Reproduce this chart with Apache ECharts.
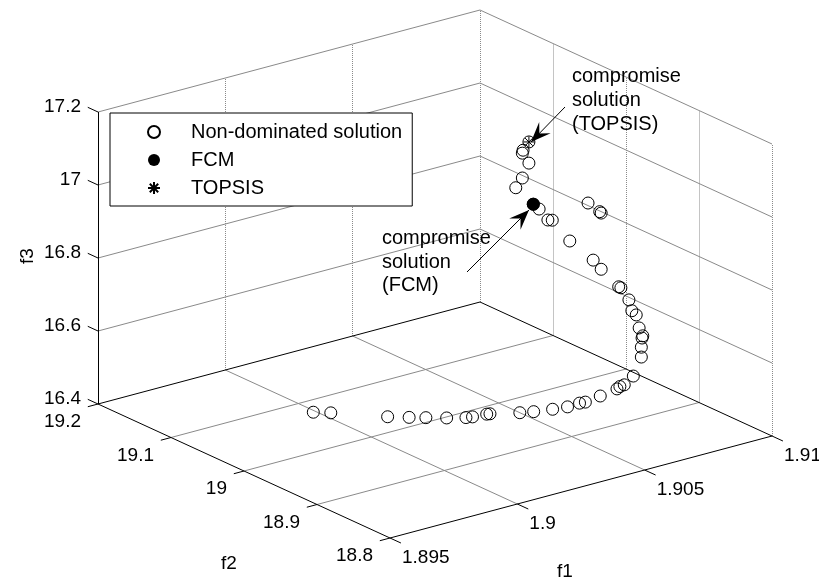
<!DOCTYPE html>
<html>
<head>
<meta charset="utf-8">
<script src="https://cdn.jsdelivr.net/npm/echarts@6/dist/echarts.min.js"></script>
<style>
html, body { margin: 0; padding: 0; background: #fff; }
#chart { width: 819px; height: 583px; }
</style>
</head>
<body>
<div id="chart"></div>
<script>
// axis ranges and ticks
const f1Range = [1.895, 1.91]
const f2Range = [18.8, 19.2]
const f3Range = [16.4, 17.2]
const f1Ticks = [1.895, 1.9, 1.905, 1.91]
const f2Ticks = [18.8, 18.9, 19, 19.1, 19.2]
const f3Ticks = [16.4, 16.6, 16.8, 17, 17.2]
const f1TickLabels = ['1.895', '1.9', '1.905', '1.91']
const f2TickLabels = ['18.8', '18.9', '19', '19.1', '19.2']
const f3TickLabels = ['16.4', '16.6', '16.8', '17', '17.2']

// non-dominated solutions (f1, f2, f3)
const ndF1 = [1.8999, 1.9003, 1.9015, 1.9020, 1.9024, 1.9029, 1.9034, 1.9036, 1.9041, 1.9042,
  1.9050, 1.9054, 1.9060, 1.9065, 1.9070, 1.9072, 1.9079, 1.9087, 1.9089, 1.9091, 1.9098,
  1.91, 1.91, 1.91, 1.91, 1.91, 1.91, 1.91, 1.91, 1.91, 1.91, 1.91, 1.91, 1.91,
  1.91, 1.91, 1.91, 1.91, 1.91, 1.91, 1.91, 1.91, 1.91, 1.91, 1.91, 1.91, 1.91]
const ndF2 = [19.076, 19.066, 19.030, 19.018, 19.009, 18.998, 18.989, 18.987, 18.985, 18.984,
  18.971, 18.966, 18.961, 18.958, 18.959, 18.958, 18.962, 18.967, 18.970, 18.971, 18.983,
  18.979, 18.979, 18.978, 18.977, 18.982, 18.986, 18.992, 18.996, 19.007, 19.010, 19.034, 19.045, 19.077,
  19.034, 19.036, 19.052, 19.101, 19.107, 19.119, 19.127, 19.151, 19.142, 19.133, 19.142, 19.141, 19.133]
const ndF3 = [16.40, 16.40, 16.40, 16.40, 16.40, 16.40, 16.40, 16.40, 16.40, 16.40,
  16.40, 16.40, 16.40, 16.40, 16.40, 16.40, 16.40, 16.40, 16.40, 16.40, 16.40,
  16.452, 16.479, 16.505, 16.512, 16.529, 16.561, 16.567, 16.593, 16.616, 16.616, 16.642, 16.657, 16.680,
  16.796, 16.798, 16.807, 16.715, 16.710, 16.729, 16.735, 16.758, 16.793, 16.842, 16.861, 16.870, 16.900]

// compromise solutions
const fcmPoint = [1.91, 19.127, 16.735]
const topsisPoint = [1.91, 19.133, 16.9]

// oblique view of the box: origin corner (f1 min, f2 max, f3 min) and the three edge vectors
const view = { ox: 98, oy: 404, e1: [382, -102], e2: [292, 134], e3: [0, -292] }

function proj(a, b, c) {
  const t1 = (a - f1Range[0]) / (f1Range[1] - f1Range[0])
  const t2 = (f2Range[1] - b) / (f2Range[1] - f2Range[0])
  const t3 = (c - f3Range[0]) / (f3Range[1] - f3Range[0])
  return [
    view.ox + t1 * view.e1[0] + t2 * view.e2[0] + t3 * view.e3[0],
    view.oy + t1 * view.e1[1] + t2 * view.e2[1] + t3 * view.e3[1]
  ]
}
function seg(p, q) {
  return { coords: [proj(p[0], p[1], p[2]), proj(q[0], q[1], q[2])] }
}

const [a0, a1] = f1Range
const [b0, b1] = f2Range
const [c0, c1] = f3Range

// grid lines
const gridSlant = []
const gridVertical = []
f1Ticks.slice(1, -1).forEach(v => gridSlant.push(seg([v, b0, c0], [v, b1, c0])))
f2Ticks.slice(1, -1).forEach(v => gridSlant.push(seg([a0, v, c0], [a1, v, c0])))
f3Ticks.slice(1).forEach(v => {
  gridSlant.push(seg([a0, b1, v], [a1, b1, v]))
  gridSlant.push(seg([a1, b0, v], [a1, b1, v]))
})
f1Ticks.slice(1).forEach(v => gridVertical.push(seg([v, b1, c0], [v, b1, c1])))
f2Ticks.slice(0, -1).forEach(v => gridVertical.push(seg([a1, v, c0], [a1, v, c1])))

// axis lines, floor edges and ticks
const axisLines = [
  seg([a0, b0, c0], [a0, b1, c0]),
  seg([a0, b0, c0], [a1, b0, c0]),
  seg([a0, b1, c0], [a0, b1, c1]),
  seg([a0, b1, c0], [a1, b1, c0]),
  seg([a1, b1, c0], [a1, b0, c0])
]
f1Ticks.forEach(v => axisLines.push(seg([v, b0, c0], [v, b0 - 0.015, c0])))
f2Ticks.forEach(v => axisLines.push(seg([a0, v, c0], [a0 - 0.0004, v, c0])))
f3Ticks.forEach(v => axisLines.push(seg([a0, b1, v], [a0, b1 + 0.014, v])))

// tick labels
const tickLabelItems = []
f1Ticks.forEach((v, i) => tickLabelItems.push({ pos: proj(v, b0, c0), text: f1TickLabels[i], align: 'left', dx: 12, dy: 20 }))
f2Ticks.forEach((v, i) => tickLabelItems.push({ pos: proj(a0, v, c0), text: f2TickLabels[i], align: 'right', dx: -17, dy: 18 }))
f3Ticks.forEach((v, i) => tickLabelItems.push({ pos: proj(a0, b1, v), text: f3TickLabels[i], align: 'right', dx: -17, dy: -5 }))

const FONT = '"Liberation Sans", Arial, Helvetica, sans-serif'

function arrowHead(tail, tip, len, half) {
  const dx = tip[0] - tail[0]
  const dy = tip[1] - tail[1]
  const l = Math.hypot(dx, dy)
  const ux = dx / l
  const uy = dy / l
  const bx = tip[0] - ux * len
  const by = tip[1] - uy * len
  return [tip, [bx - uy * half, by + ux * half], [tip[0] - ux * len * 0.6, tip[1] - uy * len * 0.6], [bx + uy * half, by - ux * half]]
}
function arrow(tail, tip) {
  return [
    { type: 'line', shape: { x1: tail[0], y1: tail[1], x2: tip[0], y2: tip[1] }, style: { stroke: '#000', lineWidth: 1 }, z: 20 },
    { type: 'polygon', shape: { points: arrowHead(tail, tip, 20, 8) }, style: { fill: '#000' }, z: 20 }
  ]
}

const myChart = echarts.init(document.getElementById('chart'))
myChart.setOption({
  animation: false,
  backgroundColor: '#fff',
  grid: { left: 0, top: 0, right: 0, bottom: 0 },
  xAxis: { type: 'value', min: 0, max: 819, show: false },
  yAxis: { type: 'value', min: 0, max: 583, inverse: true, show: false },
  legend: {
    left: 110,
    top: 113,
    orient: 'vertical',
    selectedMode: false,
    backgroundColor: '#fff',
    borderColor: '#000',
    borderWidth: 1,
    padding: [9, 10, 8, 37],
    itemWidth: 12,
    itemHeight: 12,
    itemGap: 8,
    textStyle: { fontFamily: FONT, fontSize: 20, color: '#000', lineHeight: 20, padding: [0, 0, 0, 26] },
    data: ['Non-dominated solution', 'FCM', 'TOPSIS']
  },
  series: [
    {
      type: 'lines',
      coordinateSystem: 'cartesian2d',
      silent: true,
      z: 1,
      lineStyle: { color: '#8a8a8a', width: 1, opacity: 1 },
      data: gridSlant
    },
    {
      type: 'lines',
      coordinateSystem: 'cartesian2d',
      silent: true,
      z: 1,
      lineStyle: { color: '#8a8a8a', width: 1, type: [1, 1], opacity: 1 },
      data: gridVertical
    },
    {
      type: 'lines',
      coordinateSystem: 'cartesian2d',
      silent: true,
      z: 2,
      lineStyle: { color: '#000', width: 1, opacity: 1 },
      data: axisLines
    },
    {
      type: 'custom',
      coordinateSystem: 'cartesian2d',
      silent: true,
      z: 5,
      data: tickLabelItems.map(d => d.pos),
      renderItem: (params, api) => {
        const d = tickLabelItems[params.dataIndex]
        const p = api.coord([api.value(0), api.value(1)])
        return {
          type: 'text',
          x: p[0] + d.dx,
          y: p[1] + d.dy,
          style: { text: d.text, font: '19px ' + FONT, fill: '#000', align: d.align, verticalAlign: 'middle' }
        }
      }
    },
    {
      name: 'Non-dominated solution',
      type: 'scatter',
      z: 3,
      symbol: 'circle',
      symbolSize: 12,
      itemStyle: { color: 'rgba(255,255,255,0)', borderColor: '#000', borderWidth: 1, opacity: 1 },
      data: ndF1.map((v, i) => proj(v, ndF2[i], ndF3[i]))
    },
    {
      name: 'FCM',
      type: 'scatter',
      z: 4,
      symbol: 'circle',
      symbolSize: 13,
      itemStyle: { color: '#000', opacity: 1 },
      data: [proj(fcmPoint[0], fcmPoint[1], fcmPoint[2])]
    },
    {
      name: 'TOPSIS',
      type: 'scatter',
      z: 4,
      symbol: 'path://M5,0L5,10M0,5L10,5M1.5,1.5L8.5,8.5M1.5,8.5L8.5,1.5',
      symbolSize: 11,
      itemStyle: { color: 'rgba(255,255,255,0)', borderColor: '#000', borderWidth: 1, opacity: 1 },
      data: [proj(topsisPoint[0], topsisPoint[1], topsisPoint[2])]
    }
  ],
  graphic: [
    { type: 'text', x: 565, y: 572, style: { text: 'f1', font: '19px ' + FONT, fill: '#000', align: 'center', verticalAlign: 'middle' } },
    { type: 'text', x: 229, y: 564, style: { text: 'f2', font: '19px ' + FONT, fill: '#000', align: 'center', verticalAlign: 'middle' } },
    { type: 'text', x: 28, y: 256, rotation: Math.PI / 2, style: { text: 'f3', font: '19px ' + FONT, fill: '#000', align: 'center', verticalAlign: 'middle' } },
    { type: 'text', x: 572, y: 64, z: 20, style: { text: 'compromise\nsolution\n(TOPSIS)', font: '20px ' + FONT, fill: '#000', lineHeight: 24, align: 'left', verticalAlign: 'top' } },
    { type: 'text', x: 382, y: 227, z: 20, style: { text: 'compromise\nsolution\n(FCM)', font: '20px ' + FONT, fill: '#000', lineHeight: 23.5, align: 'left', verticalAlign: 'top' } },
    ...arrow([565, 107], [531, 142]),
    ...arrow([467, 272], [529, 210])
  ]
})
</script>
</body>
</html>
